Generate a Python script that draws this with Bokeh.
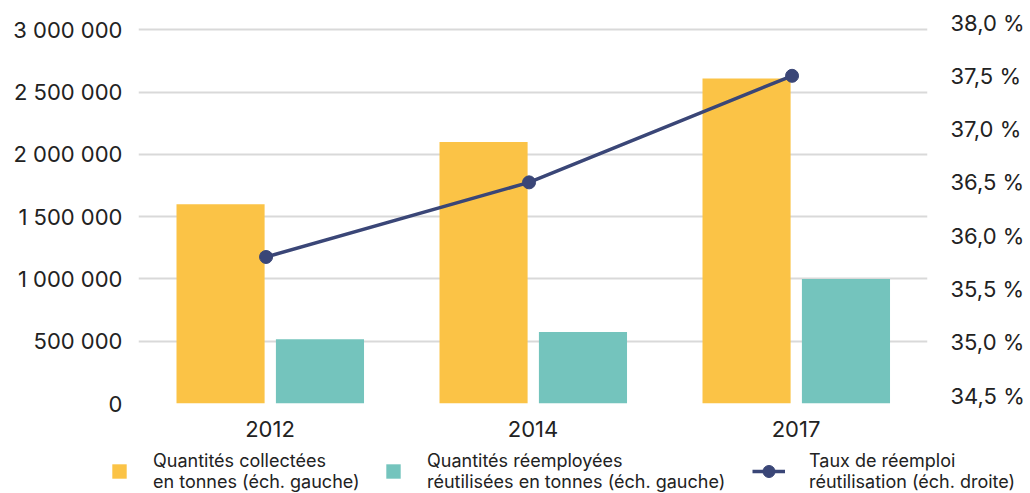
from bokeh.plotting import figure
from bokeh.models import (Range1d, LinearAxis, FixedTicker, Legend, LegendItem,
                          FactorRange, ColumnDataSource)
from bokeh.transform import dodge
from bokeh.embed import file_html
from bokeh.resources import INLINE

# ---- data ----
years = ["2012", "2014", "2017"]
collected = [1600000, 2100000, 2610000]
reused = [517000, 574000, 1000000]
rate = [35.8, 36.5, 37.5]

left_ticks = [0, 500000, 1000000, 1500000, 2000000, 2500000, 3000000]
left_labels = ["0", "500 000", "1 000 000", "1 500 000", "2 000 000", "2 500 000", "3 000 000"]
right_ticks = [34.5, 35.0, 35.5, 36.0, 36.5, 37.0, 37.5, 38.0]
right_labels = ["34,5 %", "35,0 %", "35,5 %", "36,0 %", "36,5 %", "37,0 %", "37,5 %", "38,0 %"]

legend_labels = [
    "Quantités collectées\nen tonnes (éch. gauche)",
    "Quantités réemployées\nréutilisées en tonnes (éch. gauche)",
    "Taux de réemploi\nréutilisation (éch. droite)",
]

YELLOW = "#FBC346"
TEAL = "#74C4BD"
NAVY = "#3A4677"
GRID = "#D9D9D9"
TXT = "#222222"
FONT = "Inter"

src = ColumnDataSource(dict(year=years, collected=collected, reused=reused, rate=rate))

p = figure(width=1030, height=448, output_backend="svg", toolbar_location=None,
           x_range=FactorRange(factors=years, range_padding=0),
           y_range=Range1d(0, 3076000),
           min_border_left=138, min_border_right=103, min_border_top=20, min_border_bottom=45)
p.outline_line_color = None
p.extra_y_ranges = {"pct": Range1d(34.425, 38.019)}

# grid
p.xgrid.grid_line_color = None
p.ygrid.grid_line_color = GRID
p.ygrid.grid_line_width = 2
p.ygrid.ticker = FixedTicker(ticks=left_ticks)

# bars
p.vbar(x=dodge("year", -0.188, range=p.x_range), top="collected", width=0.335,
       source=src, fill_color=YELLOW, line_color=None)
p.vbar(x=dodge("year", 0.19, range=p.x_range), top="reused", width=0.335,
       source=src, fill_color=TEAL, line_color=None)

# line
p.line(x=dodge("year", -0.015, range=p.x_range), y="rate", source=src,
       y_range_name="pct", line_color=NAVY, line_width=3.5)
p.scatter(x=dodge("year", -0.015, range=p.x_range), y="rate", source=src,
          y_range_name="pct", size=13, fill_color=NAVY, line_color=NAVY)

# axes
def style_axis(ax, standoff):
    ax.axis_line_color = None
    ax.major_tick_line_color = None
    ax.minor_tick_line_color = None
    ax.major_tick_out = 0
    ax.major_tick_in = 0
    ax.major_label_text_font = FONT
    ax.major_label_text_font_size = "22px"
    ax.major_label_text_color = TXT
    ax.major_label_standoff = standoff

yl = p.yaxis[0]
yl.ticker = FixedTicker(ticks=left_ticks)
yl.major_label_overrides = {t: l for t, l in zip(left_ticks, left_labels)}
style_axis(yl, 16)

yr = LinearAxis(y_range_name="pct")
yr.ticker = FixedTicker(ticks=right_ticks)
yr.major_label_overrides = {t: l for t, l in zip(right_ticks, right_labels)}
style_axis(yr, 23)
p.add_layout(yr, "right")

style_axis(p.xaxis[0], 17)

# ---- legend strip (separate root, stacked below the chart) ----
lf = figure(width=1030, height=45, output_backend="svg", toolbar_location=None,
            x_range=Range1d(0, 1030), y_range=Range1d(0, 45),
            min_border=0, min_border_left=0, min_border_right=0,
            min_border_top=0, min_border_bottom=0)
lf.axis.visible = False
lf.grid.visible = False
lf.outline_line_color = None

# off-range placeholder renderers: they only provide the legend swatches
g1 = lf.vbar(x=[-1000], top=[-1000], width=1, fill_color=YELLOW, line_color=None)
g2 = lf.vbar(x=[-1000], top=[-1000], width=1, fill_color=TEAL, line_color=None)
g3 = lf.line(x=[-1000, -999], y=[-1000, -1000], line_color=NAVY, line_width=3.5)
g4 = lf.scatter(x=[-1000], y=[-1000], size=13, fill_color=NAVY, line_color=NAVY)

def make_legend(label, renderers, x, y, gw, gh, standoff):
    lg = Legend(items=[LegendItem(label=label, renderers=renderers)],
                location=(x, y), orientation="horizontal",
                glyph_width=gw, glyph_height=gh, label_standoff=standoff,
                padding=0, margin=0, spacing=0,
                border_line_color=None, background_fill_alpha=0,
                label_text_font=FONT, label_text_font_size="18px",
                label_text_color=TXT, click_policy="none")
    lf.add_layout(lg, "center")

make_legend(legend_labels[0], [g1], 110, 1, 18, 18, 25)
make_legend(legend_labels[1], [g2], 384, 1, 18, 18, 25)
make_legend(legend_labels[2], [g3, g4], 752, 1, 33, 30, 24)

open("out.html", "w").write(file_html([p, lf], INLINE))
